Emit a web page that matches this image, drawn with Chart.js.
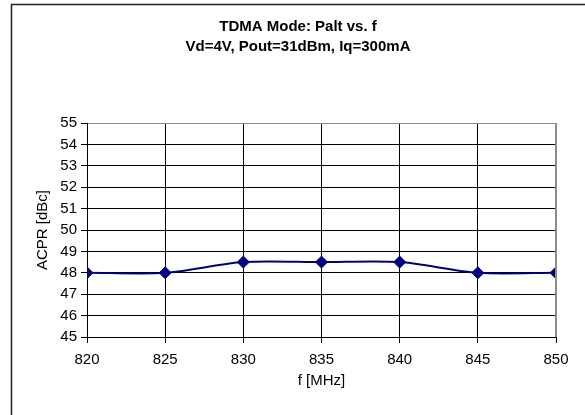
<!DOCTYPE html>
<html>
<head>
<meta charset="utf-8">
<script src="https://cdn.jsdelivr.net/npm/chart.js@4/dist/chart.umd.min.js"></script>
<style>
  html, body { margin: 0; padding: 0; background: #fff; }
  #box { width: 585px; height: 415px; }
</style>
</head>
<body>
<div id="box"><canvas id="myChart" width="585" height="415"></canvas></div>
<script>
var freqs = [820, 825, 830, 835, 840, 845, 850];
var acpr = [48, 48, 48.5, 48.5, 48.5, 48, 48];
var titleLines = ["TDMA Mode: Palt vs. f", "Vd=4V, Pout=31dBm, Iq=300mA"];
var xLabel = "f [MHz]";
var yLabel = "ACPR [dBc]";

var points = freqs.map(function(f, i){ return {x: f, y: acpr[i]}; });
var navy = '#000080';
var font = 'Arial, "Liberation Sans", sans-serif';

// draws the outer frame (only top and left edges are visible in the crop)
var framePlugin = {
  id: 'frame',
  beforeDraw: function(chart){
    var ctx = chart.ctx;
    ctx.save();
    ctx.fillStyle = '#fff';
    ctx.fillRect(0, 0, chart.width, chart.height);
    ctx.strokeStyle = '#222';
    ctx.lineWidth = 1.5;
    ctx.beginPath();
    ctx.moveTo(11.5, chart.height);
    ctx.lineTo(11.5, 4.5);
    ctx.lineTo(chart.width, 4.5);
    ctx.stroke();
    ctx.restore();
  },
  afterDatasetsDraw: function(chart){
    // grey plot-area edge on the right
    var a = chart.chartArea, ctx = chart.ctx;
    ctx.save();
    ctx.strokeStyle = '#8c8c8c';
    ctx.lineWidth = 2;
    ctx.beginPath();
    ctx.moveTo(a.right, a.top);
    ctx.lineTo(a.right, a.bottom);
    ctx.stroke();
    ctx.restore();
  }
};

var ctx = document.getElementById('myChart').getContext('2d');
var chart = new Chart(ctx, {
  type: 'line',
  data: {
    datasets: [{
      label: yLabel,
      data: points,
      borderColor: navy,
      backgroundColor: navy,
      borderWidth: 2,
      tension: 0.28,
      pointStyle: 'rectRot',
      pointRadius: 6,
      pointBorderWidth: 1,
      pointBackgroundColor: navy,
      pointBorderColor: navy,
      fill: false
    }]
  },
  options: {
    responsive: false,
    animation: false,
    layout: { padding: { left: 11, right: 0, top: 0, bottom: 0 } },
    plugins: {
      legend: { display: false },
      tooltip: { enabled: false },
      title: {
        display: true,
        text: titleLines,
        color: '#000',
        font: { family: font, size: 15, weight: 'bold', lineHeight: 1.3334 },
        padding: { top: 17, bottom: 66 }
      }
    },
    scales: {
      x: {
        type: 'linear',
        min: 820,
        max: 850,
        afterFit: function(s){ s.height = 78; s.paddingRight = 29; },
        ticks: { stepSize: 5, color: '#000', padding: 8, font: { family: font, size: 15 } },
        grid: {
          color: function(c){ return c.tick && c.tick.value === 850 ? '#8c8c8c' : '#000'; },
          tickColor: '#000',
          tickLength: 6,
          lineWidth: 1
        },
        border: { color: '#000', width: 1 },
        title: {
          display: true, text: xLabel, color: '#000',
          font: { family: font, size: 15 },
          padding: { top: 25, bottom: 25 }
        }
      },
      y: {
        min: 45,
        max: 55,
        afterFit: function(s){ s.width = 76; },
        ticks: { stepSize: 1, color: '#000', padding: 4, font: { family: font, size: 15 } },
        grid: {
          color: function(c){ return c.tick && c.tick.value === 55 ? '#8c8c8c' : '#000'; },
          tickColor: '#000',
          tickLength: 6,
          lineWidth: 1
        },
        border: { color: '#000', width: 1 },
        title: {
          display: true, text: yLabel, color: '#000',
          font: { family: font, size: 15 },
          padding: { top: 23, bottom: 23 }
        }
      }
    }
  },
  plugins: [framePlugin]
});
</script>
</body>
</html>
